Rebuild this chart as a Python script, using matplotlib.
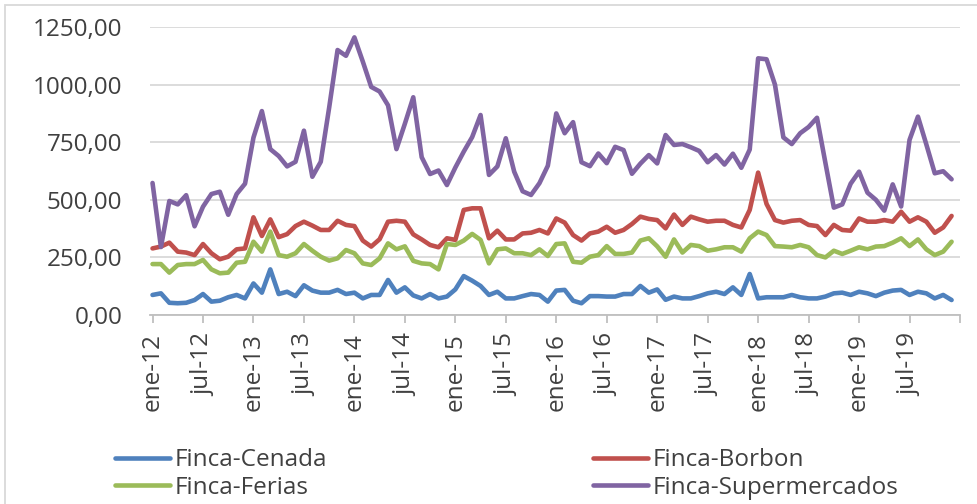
import matplotlib
matplotlib.use('Agg')
import matplotlib.pyplot as plt
from matplotlib.patches import Rectangle
from matplotlib.lines import Line2D

plt.rcParams['font.family'] = ['Open Sans', 'DejaVu Sans']

# monthly prices, ene-12 .. dic-19
cenada = [87, 94, 53, 51, 53, 65, 91, 58, 62, 77, 87, 72,
          137, 97, 198, 91, 101, 82, 129, 106, 97, 97, 109, 91,
          97, 72, 87, 87, 152, 97, 120, 85, 72, 91, 72, 80,
          111, 169, 149, 126, 87, 101, 72, 72, 82, 91, 87, 58,
          106, 109, 62, 51, 82, 82, 80, 80, 91, 91, 126, 97,
          111, 66, 80, 72, 72, 82, 94, 101, 91, 120, 87, 178,
          72, 77, 77, 77, 87, 77, 72, 72, 80, 94, 97, 87,
          101, 94, 82, 97, 106, 109, 87, 101, 94, 72, 87, 65]
borbon = [289, 297, 314, 275, 271, 260, 308, 268, 242, 253, 285, 289,
          424, 343, 415, 338, 351, 386, 405, 388, 369, 369, 409, 391,
          386, 323, 297, 329, 405, 409, 405, 350, 328, 304, 294, 333,
          326, 456, 463, 463, 333, 366, 328, 328, 354, 357, 369, 354,
          419, 401, 347, 323, 354, 362, 383, 357, 369, 395, 427, 417,
          412, 376, 436, 391, 427, 415, 405, 409, 409, 391, 380, 456,
          618, 482, 412, 401, 409, 412, 391, 386, 347, 391, 369, 366,
          419, 405, 405, 412, 405, 448, 405, 424, 405, 357, 380, 430]
ferias = [221, 221, 184, 217, 221, 221, 239, 198, 181, 184, 227, 231,
          318, 275, 362, 260, 253, 268, 308, 279, 253, 236, 246, 282,
          268, 224, 217, 246, 311, 285, 298, 235, 224, 221, 198, 308,
          304, 323, 352, 326, 224, 285, 289, 268, 268, 260, 285, 256,
          308, 311, 231, 227, 253, 260, 299, 265, 265, 271, 323, 333,
          298, 253, 328, 271, 304, 299, 279, 285, 294, 294, 275, 333,
          362, 347, 299, 297, 294, 304, 294, 260, 250, 279, 265, 279,
          294, 285, 297, 299, 314, 333, 299, 328, 285, 260, 275, 318]
supermercados = [573, 295, 495, 480, 520, 385, 470, 525, 535, 435, 525, 570,
                 770, 885, 720, 690, 645, 665, 800, 600, 665, 900, 1150, 1125,
                 1205, 1100, 990, 970, 910, 720, 830, 945, 685, 612, 627, 564,
                 640, 709, 772, 868, 608, 645, 767, 622, 537, 521, 572, 648,
                 875, 789, 837, 663, 646, 701, 659, 730, 716, 613, 657, 694,
                 658, 781, 738, 742, 728, 712, 663, 694, 653, 700, 639, 718,
                 1114, 1110, 1000, 771, 742, 789, 816, 856, 660, 466, 480, 570,
                 622, 531, 500, 453, 567, 471, 760, 861, 740, 615, 624, 589]

tick_labels = ['ene-12', 'jul-12', 'ene-13', 'jul-13', 'ene-14', 'jul-14',
               'ene-15', 'jul-15', 'ene-16', 'jul-16', 'ene-17', 'jul-17',
               'ene-18', 'jul-18', 'ene-19', 'jul-19', '']
y_ticks = [0, 250, 500, 750, 1000, 1250]

series = [
    ('Finca-Cenada', cenada, '#4F81BD'),
    ('Finca-Borbon', borbon, '#C0504D'),
    ('Finca-Ferias', ferias, '#9BBB59'),
    ('Finca-Supermercados', supermercados, '#8064A2'),
]

txt = '#404040'
fs = 17.5

fig = plt.figure(figsize=(9.77, 5.04), dpi=100)
ax = fig.add_axes([150 / 977, 189 / 504, 810 / 977, 288 / 504])

x = list(range(len(cenada)))
for name, vals, col in series:
    ax.plot(x, vals, color=col, lw=3.3, solid_joinstyle='round',
            solid_capstyle='round', label=name)

ax.set_xlim(-0.3, 96)
ax.set_ylim(0, 1250)
ax.set_yticks(y_ticks)
ax.set_yticklabels([f'{v:.2f}'.replace('.', ',') for v in y_ticks])
ax.set_xticks(range(0, 97, 6))
ax.set_xticklabels(tick_labels, rotation=90, va='top', ha='center')
ax.grid(axis='y', color='#D9D9D9', lw=1.3)
ax.set_axisbelow(True)
for s in ['top', 'right', 'left']:
    ax.spines[s].set_visible(False)
ax.spines['bottom'].set_color('#BFBFBF')
ax.spines['bottom'].set_linewidth(1.3)
ax.tick_params(axis='y', length=0, pad=20, labelsize=fs, labelcolor=txt)
ax.tick_params(axis='x', length=6, width=1.3, color='#BFBFBF', pad=7,
               labelsize=fs, labelcolor=txt)

# legend, two columns placed like the original
h = {name: Line2D([], [], color=col, lw=3.3, solid_capstyle='round')
     for name, _, col in series}
kw = dict(frameon=False, fontsize=fs, handlelength=2.25, handletextpad=0.2,
          labelspacing=0.15, borderpad=0, loc='upper left', labelcolor=txt)
leg1 = fig.legend([h['Finca-Cenada'], h['Finca-Ferias']],
                  ['Finca-Cenada', 'Finca-Ferias'],
                  bbox_to_anchor=(103 / 977, 1 - 436 / 504), **kw)
leg2 = fig.legend([h['Finca-Borbon'], h['Finca-Supermercados']],
                  ['Finca-Borbon', 'Finca-Supermercados'],
                  bbox_to_anchor=(581 / 977, 1 - 436 / 504), **kw)

# chart border
fig.patches.append(Rectangle((5 / 977, -0.05), 1.0, 1 - 5 / 504 + 0.05,
                             transform=fig.transFigure, fill=False,
                             edgecolor='#D9D9D9', lw=1.3))

fig.savefig('out.png', dpi=100)
